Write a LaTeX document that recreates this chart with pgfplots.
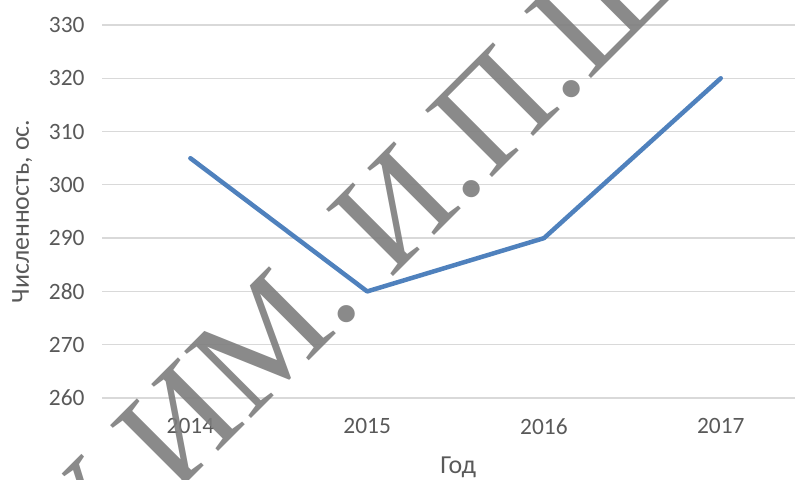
\documentclass[border=0pt]{standalone}
\usepackage{pgfplots}
\pgfplotsset{compat=1.18}
\usepackage{fontspec}
\setmainfont{Carlito}
\newfontfamily\wmfont{Liberation Serif}
\definecolor{lineblue}{RGB}{79,129,189}
\definecolor{txtgray}{RGB}{89,89,89}
\definecolor{gridgray}{RGB}{217,217,217}
\definecolor{wmgray}{RGB}{125,125,125}
\begin{document}
\begin{tikzpicture}[x=1bp,y=1bp]
\useasboundingbox (0,0) rectangle (795,480);
\begin{axis}[
  at={(102bp,82bp)}, anchor=south west, scale only axis,
  width=693bp, height=373bp,
  xmin=-0.5, xmax=3.42, ymin=260, ymax=330,
  xtick={0,1,2,3}, xticklabels={2014,2015,2016,2017},
  ytick={260,270,280,290,300,310,320,330},
  ymajorgrids, major grid style={gridgray, line width=1.3bp},
  axis line style={draw=none},
  major tick length=0pt,
  /pgf/number format/assume math mode=true,
  /pgf/number format/1000 sep={},
  tick label style={text=txtgray, font=\fontsize{23.5}{27}\selectfont},
  yticklabel style={anchor=east, xshift=-14bp},
  xticklabel style={anchor=north, yshift=-17bp},
  xlabel={Год}, ylabel={Численность, ос.},
  label style={text=txtgray, font=\fontsize{26}{30}\selectfont},
  xlabel style={at={(axis description cs:0.514,-0.185)}, anchor=center},
  ylabel style={at={(axis description cs:-0.115,0.5)}, anchor=center, rotate=0},
  clip=false,
]
\addplot[lineblue, line width=4.5bp, line join=round, line cap=round] coordinates {
  (0,305) (1,280) (2,290) (3,320)
};
\end{axis}
\begin{scope}[text=wmgray, text opacity=0.9]
\node[rotate=45, anchor=base east, inner sep=0pt, font=\wmfont\fontsize{145}{150}\selectfont] at (364.6,174.6) {ГУ ИМ.};
\node[rotate=45, anchor=base west, inner sep=0pt, font=\wmfont\fontsize{145}{150}\selectfont] at (390,200) {И.П.Ш};
\end{scope}
\end{tikzpicture}
\end{document}
